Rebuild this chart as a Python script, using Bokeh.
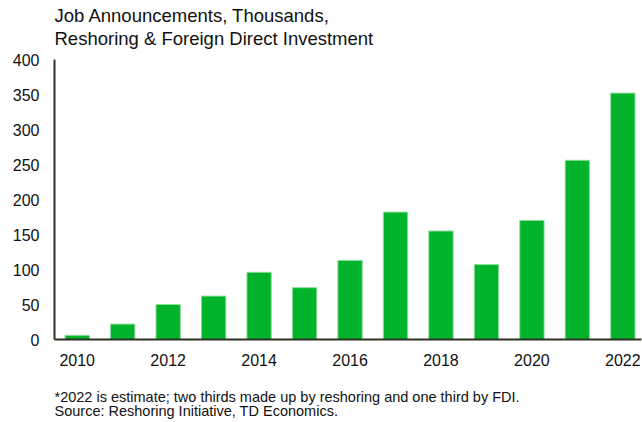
from bokeh.plotting import figure
from bokeh.models import Range1d, FixedTicker, Title
from bokeh.embed import file_html
from bokeh.resources import INLINE

years = [2010, 2011, 2012, 2013, 2014, 2015, 2016, 2017, 2018, 2019, 2020, 2021, 2022]
jobs = [6, 22, 50, 62, 96, 74, 113, 182, 155, 107, 170, 256, 352]
y_ticks = [0, 50, 100, 150, 200, 250, 300, 350, 400]
x_ticks = [2010, 2012, 2014, 2016, 2018, 2020, 2022]
title_lines = ["Job Announcements, Thousands,", "Reshoring & Foreign Direct Investment"]
note_lines = ["*2022 is estimate; two thirds made up by reshoring and one third by FDI.",
              "Source: Reshoring Initiative, TD Economics."]

FONT = "Liberation Sans"
AXIS_COL = "#2d3121"

p = figure(width=642, height=422, output_backend="svg", toolbar_location=None,
           x_range=Range1d(2009.5, 2022.41), y_range=Range1d(0, 400),
           min_border_left=54, min_border_right=1, min_border_top=59, min_border_bottom=83)
p.outline_line_color = None
p.xgrid.grid_line_color = None
p.ygrid.grid_line_color = None

p.vbar(x=years, top=jobs, bottom=0, width=0.535, fill_color="#00b32a",
       line_color="#8fdc9c", line_width=1)

for ax in (p.xaxis[0], p.yaxis[0]):
    ax.axis_line_color = AXIS_COL
    ax.axis_line_width = 2
    ax.major_tick_line_color = None
    ax.minor_tick_line_color = None
    ax.major_tick_out = 0
    ax.major_tick_in = 0
    ax.major_label_text_font = FONT
    ax.major_label_text_font_size = "16px"
    ax.major_label_text_color = "#111111"

p.yaxis[0].ticker = FixedTicker(ticks=y_ticks)
p.yaxis[0].major_label_standoff = 15
p.xaxis[0].ticker = FixedTicker(ticks=x_ticks)
p.xaxis[0].major_label_standoff = 14


def spacer(size):
    return Title(text=" ", text_font=FONT, text_font_size=size, standoff=0)


# above: first added sits closest to the frame
p.add_layout(spacer("7.5px"), "above")
for t in reversed(title_lines):
    p.add_layout(Title(text=t, align="left", text_font=FONT, text_font_size="18.5px",
                       text_font_style="normal", text_color="#111111",
                       standoff=0, offset=0), "above")

# below: after the x axis
p.add_layout(spacer("15px"), "below")
p.add_layout(Title(text="\n".join(note_lines), align="left", text_font=FONT,
                   text_font_size="14.5px", text_font_style="normal", text_color="#111111",
                   text_line_height=0.9, standoff=0, offset=0), "below")

open("out.html", "w").write(file_html(p, INLINE))
